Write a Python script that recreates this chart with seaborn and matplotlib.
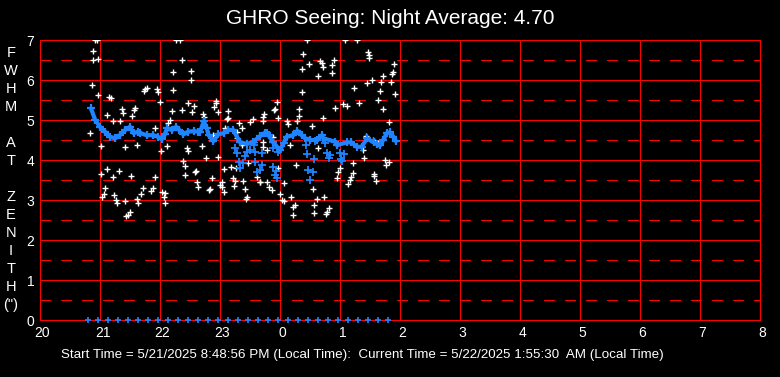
# GHRO seeing plot
import matplotlib
matplotlib.use("Agg")
import matplotlib.pyplot as plt
import matplotlib.transforms as mtransforms
from matplotlib.ticker import MultipleLocator
import seaborn as sns

# Individual FWHM readings (hours past 20:00 on a continuous clock, arcsec)
seeing_hours = [
    20.92, 20.95, 20.89, 20.88, 20.96, 20.86, 20.97, 21.15, 21.18, 21.36, 21.39,
    21.56, 21.58, 21.54, 21.12, 21.21, 21.34, 20.84, 21.01, 21.41, 21.61, 21.11,
    21.31, 21.02, 21.22, 21.52, 21.09, 21.06, 21.03, 21.24, 21.26, 21.28, 21.42,
    21.62, 21.64, 21.50, 21.46, 21.43,
    22.27, 22.33, 22.36, 22.22, 22.52, 22.51, 21.75, 21.78, 21.73, 21.95, 21.97,
    22.21, 22.00, 22.47, 22.56, 22.20, 22.37, 22.54, 22.16, 22.14, 21.92, 22.12,
    22.02, 22.45, 22.46, 22.39, 22.41, 22.58, 22.60, 22.42, 21.91, 22.62, 22.64,
    21.71, 21.68, 21.88, 21.85, 22.04, 22.08, 22.06, 22.09,
    22.93, 22.90, 22.94, 23.14, 22.96, 22.71, 22.73, 23.13, 23.11, 23.32, 23.36,
    23.50, 23.55, 23.08, 23.29, 22.89, 23.28, 22.70, 23.37, 23.57, 22.97, 22.77,
    23.07, 23.19, 23.27, 23.47, 22.87, 23.21, 23.25, 23.39, 23.03, 23.00, 23.04,
    23.24, 23.41, 22.81, 22.83, 23.06, 23.45, 23.43, 23.61, 23.66,
    24.45, 24.39, 24.67, 24.49, 24.37, 24.64, 24.36, 23.95, 23.92, 23.90, 24.32,
    24.31, 23.73, 23.72, 23.71, 23.96, 24.11, 24.14, 24.29, 24.53, 23.89, 23.72,
    23.71, 23.78, 24.17, 24.63, 24.27, 23.97, 23.67, 23.79, 23.82, 23.86, 24.07,
    24.55, 24.00, 24.03, 24.06, 24.19, 24.25, 24.22, 24.61, 24.57, 24.56, 24.21,
    25.08, 25.28, 25.46, 25.49, 25.49, 24.90, 24.70, 24.71, 24.87, 24.86, 25.53,
    25.45, 25.24, 25.66, 25.32, 25.05, 25.12, 25.64, 24.92, 24.72, 25.43, 25.57,
    25.64, 25.39, 25.40, 25.22, 25.00, 24.97, 24.95, 25.21, 25.18, 25.16, 25.14,
    25.57, 25.60, 24.74, 24.81, 24.78, 24.77,
    25.90, 25.89, 25.87, 25.71, 25.69, 25.85, 25.92, 25.72, 25.82, 25.55, 25.61,
    25.75, 25.81, 25.77, 25.56,
]
seeing_values = [
    7.00, 7.00, 6.72, 6.50, 6.52, 5.88, 5.62, 5.58, 5.56, 5.27, 5.17,
    5.25, 5.29, 5.11, 5.12, 4.97, 4.97, 4.67, 4.35, 4.32, 4.37, 3.77,
    3.72, 3.64, 3.57, 3.60, 3.29, 3.14, 3.08, 3.12, 3.00, 2.92, 2.98,
    3.02, 2.92, 2.71, 2.62, 2.60,
    7.00, 7.00, 6.50, 6.19, 6.22, 6.00, 5.78, 5.81, 5.72, 5.78, 5.69,
    5.75, 5.44, 5.42, 5.35, 5.22, 5.24, 5.21, 4.99, 4.92, 4.79, 4.35,
    4.23, 4.31, 4.22, 3.98, 3.86, 3.71, 3.72, 3.62, 3.57, 3.46, 3.33,
    3.29, 3.14, 3.31, 3.23, 3.21, 3.17, 3.07, 2.93,
    5.48, 5.33, 5.42, 5.22, 5.19, 5.14, 5.08, 5.06, 5.02, 4.92, 4.81,
    4.94, 5.03, 4.79, 4.69, 4.62, 4.56, 4.35, 4.37, 4.44, 4.08, 4.04,
    3.77, 3.83, 3.81, 3.93, 3.54, 3.54, 3.48, 3.48, 3.46, 3.38, 3.33,
    3.35, 3.27, 3.25, 3.28, 3.19, 3.07, 3.03, 3.58, 3.46,
    7.00, 6.64, 6.47, 6.39, 6.27, 6.11, 5.69, 5.44, 5.27, 5.25, 5.27,
    5.11, 5.15, 5.08, 4.97, 5.04, 4.97, 4.89, 4.97, 4.85, 4.58, 4.46,
    4.33, 4.25, 4.37, 4.29, 3.88, 3.79, 3.46, 3.46, 3.33, 3.25, 3.42,
    3.28, 3.14, 3.00, 2.98, 3.07, 2.88, 2.83, 3.02, 2.88, 2.68, 2.62,
    7.00, 7.00, 6.69, 6.62, 6.56, 6.50, 6.42, 6.33, 6.37, 6.17, 6.00,
    5.92, 5.79, 5.72, 5.43, 5.39, 5.36, 5.50, 5.29, 5.04, 4.60, 4.47,
    4.42, 4.25, 4.04, 3.92, 3.79, 3.71, 3.54, 3.68, 3.58, 3.50, 3.39,
    3.64, 3.48, 3.07, 2.79, 2.71, 2.64,
    6.39, 6.19, 6.14, 6.11, 5.94, 5.96, 5.64, 5.27, 4.94, 4.50, 4.39,
    4.00, 3.96, 3.88, 3.61,
]

# Running average of FWHM
avg_hours = [
    20.85, 20.92, 21.00, 21.08, 21.17, 21.25, 21.33, 21.42, 21.50, 21.56, 21.64,
    21.67, 21.78, 21.89, 21.97, 22.03, 22.08, 22.12, 22.20, 22.27, 22.32, 22.39,
    22.47, 22.56, 22.64, 22.67, 22.73, 22.78, 22.81, 22.89, 22.97, 23.06, 23.14,
    23.22, 23.33, 23.45, 23.55, 23.67, 23.75, 23.78, 23.81, 23.88, 24.00, 24.06,
    24.11, 24.22, 24.29, 24.36, 24.42, 24.50, 24.61, 24.70, 24.72, 24.92, 24.95,
    25.11, 25.19, 25.28, 25.36, 25.45, 25.56, 25.62, 25.67, 25.72, 25.78, 25.83,
    25.89, 25.93,
]
avg_values = [
    5.29, 5.00, 4.83, 4.71, 4.58, 4.54, 4.62, 4.75, 4.83, 4.67, 4.71,
    4.67, 4.62, 4.62, 4.58, 4.52, 4.64, 4.79, 4.75, 4.83, 4.75, 4.64,
    4.71, 4.72, 4.71, 4.71, 4.97, 4.79, 4.62, 4.47, 4.64, 4.67, 4.75,
    4.75, 4.45, 4.40, 4.45, 4.60, 4.68, 4.68, 4.62, 4.45, 4.25, 4.42,
    4.58, 4.62, 4.73, 4.62, 4.54, 4.50, 4.50, 4.62, 4.54, 4.46, 4.37,
    4.44, 4.44, 4.33, 4.33, 4.54, 4.44, 4.40, 4.37, 4.50, 4.67, 4.69,
    4.58, 4.47,
]

# Second (blue) set of readings
blue_hours = [
    23.25, 23.28, 23.41, 23.45, 23.50, 23.56, 23.58, 23.31, 23.38, 23.33, 23.58,
    23.61, 23.66, 23.70, 23.88, 23.97, 23.70, 23.89, 23.93, 23.92, 23.95, 24.43,
    24.45, 24.56, 24.47, 24.55, 24.50, 24.58, 24.75, 24.78, 24.83, 24.81, 25.00,
    25.01, 25.06, 25.03,
]
blue_values = [
    4.31, 4.17, 4.10, 4.21, 4.25, 4.37, 4.19, 3.96, 3.92, 3.81, 3.94,
    3.71, 3.75, 4.17, 4.29, 4.21, 3.88, 3.83, 3.72, 3.62, 3.56, 4.37,
    4.14, 4.02, 3.75, 3.69, 3.50, 4.47, 4.42, 4.17, 4.12, 4.06, 4.17,
    4.03, 4.14, 3.98,
]

# Sample times marked along the zero line (every 10 minutes)
sample_hours = [
    20.80, 20.97, 21.13, 21.30, 21.47, 21.63, 21.80, 21.97, 22.13, 22.30, 22.47,
    22.63, 22.80, 22.97, 23.13, 23.30, 23.47, 23.63, 23.80, 23.97, 24.13, 24.30,
    24.47, 24.63, 24.80, 24.97, 25.13, 25.30, 25.47, 25.63, 25.80,
]
sample_values = [0.0] * len(sample_hours)

hour_ticks = list(range(20, 33))
hour_labels = ["20", "21", "22", "23", "0", "1", "2", "3", "4", "5", "6", "7", "8"]

title = "GHRO Seeing: Night Average: 4.70"
footer = ("Start Time = 5/21/2025 8:48:56 PM (Local Time):  "
          "Current Time = 5/22/2025 1:55:30  AM (Local Time)")
ylabel_letters = ["F", "W", "H", "M", "", "A", "T", "", "Z", "E", "N", "I", "T", "H", "(\")"]

BLUE = "#1f84ff"
RED = "#ff0000"

sns.set_theme(style="dark", rc={
    "axes.facecolor": "black",
    "figure.facecolor": "black",
    "savefig.facecolor": "black",
})
plt.rcParams["font.family"] = ["Liberation Sans", "DejaVu Sans"]

fig = plt.figure(figsize=(7.8, 3.77), dpi=100)
W, H = 780, 377
ax = fig.add_axes([40 / W, 57 / H, 720 / W, 280 / H])
ax.set_facecolor("black")

# White individual readings
sns.scatterplot(x=seeing_hours, y=seeing_values, ax=ax, marker="+", s=24,
                color="white", linewidth=1.0, zorder=3)
# Blue running average
sns.lineplot(x=avg_hours, y=avg_values, ax=ax, sort=False, color=BLUE,
             linewidth=3.0, zorder=4)
sns.scatterplot(x=avg_hours, y=avg_values, ax=ax, marker="+", s=40,
                color=BLUE, linewidth=1.6, zorder=4)
sns.scatterplot(x=blue_hours, y=blue_values, ax=ax, marker="+", s=30,
                color=BLUE, linewidth=1.3, zorder=4)
sns.scatterplot(x=sample_hours, y=sample_values, ax=ax, marker="+", s=22,
                color=BLUE, linewidth=1.2, zorder=5, clip_on=False)

ax.set_xlim(20, 32)
ax.set_ylim(0, 7)
ax.set_xticks(hour_ticks)
ax.set_xticklabels(hour_labels)
ax.yaxis.set_major_locator(MultipleLocator(1))
ax.yaxis.set_minor_locator(MultipleLocator(0.5))
ax.set_axisbelow(True)

ax.grid(which="major", axis="both", color=RED, linewidth=0.7, linestyle="-",
        antialiased=False)
ax.grid(which="minor", axis="y", color=RED, linewidth=0.7,
        linestyle=(0, (10.5, 10.5)), antialiased=False)
for sp in ax.spines.values():
    sp.set_color(RED)
    sp.set_linewidth(0.7)
    sp.set_antialiased(False)
    sp.set_visible(True)

ax.tick_params(axis="both", which="both", length=0, colors="white", labelsize=10)
ax.tick_params(axis="x", pad=4)
ax.tick_params(axis="y", pad=4)
shift = mtransforms.ScaledTranslation(2.5 / 100, 0, fig.dpi_scale_trans)
for lbl in ax.get_xticklabels():
    lbl.set_transform(lbl.get_transform() + shift)
ax.set_xlabel("")
ax.set_ylabel("")

fig.text(390 / W, 1 - 19 / H, title, color="white", fontsize=15,
         ha="center", va="center")
fig.text(362 / W, 1 - 355 / H, footer, color="white", fontsize=9.6,
         ha="center", va="center")

for i, ch in enumerate(ylabel_letters):
    if ch:
        fig.text(11 / W, 1 - (53 + 18 * i) / H, ch, color="white", fontsize=10.5,
                 ha="center", va="center")

fig.savefig("out.png", dpi=100, facecolor="black")
